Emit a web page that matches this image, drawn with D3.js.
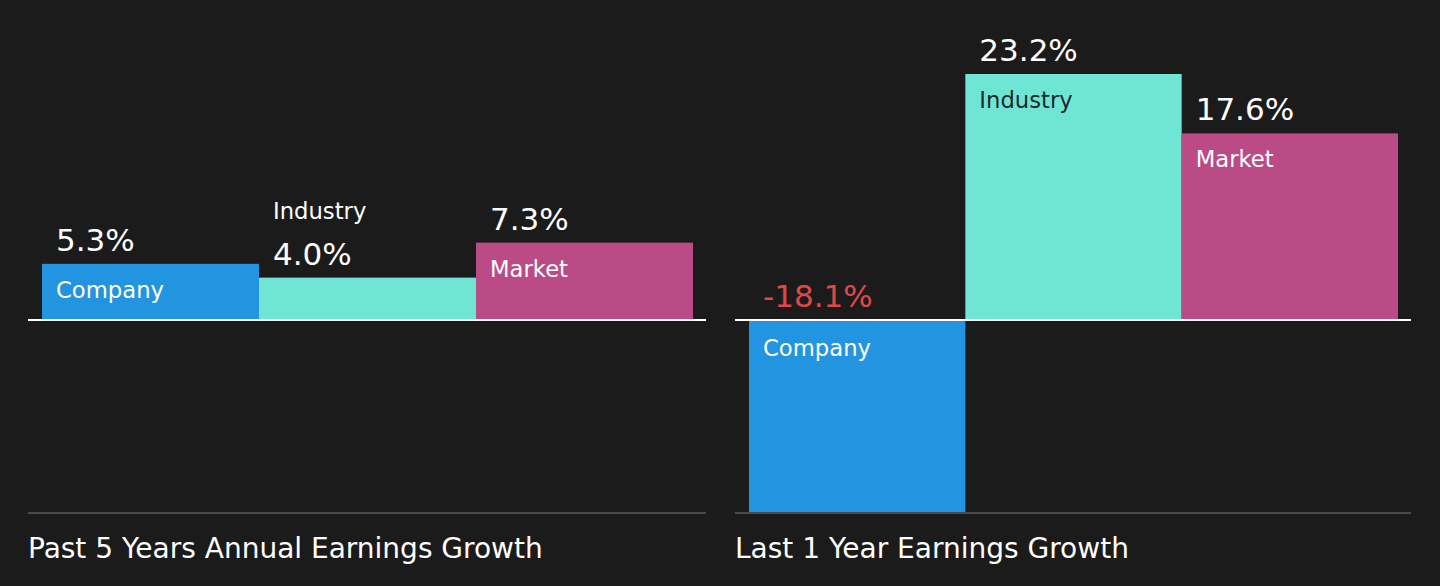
<!DOCTYPE html>
<html><head><meta charset="utf-8">
<script src="https://cdn.jsdelivr.net/npm/d3@7"></script>
<style>
html,body{margin:0;padding:0;background:#1b1b1b;}
svg{display:block;font-family:"DejaVu Sans",sans-serif;}
</style></head>
<body><svg id="c" width="1440" height="586"></svg>
<script>
const categories = ["Company", "Industry", "Market"];
const past5Values = [5.3, 4.0, 7.3];
const last1Values = [-18.1, 23.2, 17.6];
const panelTitles = ["Past 5 Years Annual Earnings Growth", "Last 1 Year Earnings Growth"];

const colors = {Company:"#2394df", Industry:"#6fe6d5", Market:"#bb4b87"};
const svg = d3.select("#c");
svg.append("rect").attr("width",1440).attr("height",586).attr("fill","#1b1b1b");

const allVals = past5Values.concat(last1Values);
const y = d3.scaleLinear().domain([d3.min(allVals), d3.max(allVals)]).range([512, 74]);

const panels = [
  {x0:28, x1:706, values:past5Values, title:panelTitles[0]},
  {x0:735, x1:1411, values:last1Values, title:panelTitles[1]}
];

panels.forEach(p => {
  const g = svg.append("g");
  const x = d3.scaleBand().domain(categories).range([p.x0+14, p.x1-13]).padding(0);
  const data = categories.map((c,i)=>({cat:c, v:p.values[i]}));
  g.selectAll("rect.bar").data(data).enter().append("rect")
    .attr("x", d=>x(d.cat)).attr("width", x.bandwidth())
    .attr("y", d=>Math.min(y(d.v), y(0))).attr("height", d=>Math.abs(y(d.v)-y(0)))
    .attr("fill", d=>colors[d.cat]);
  g.append("line").attr("x1",p.x0).attr("x2",p.x1).attr("y1",y(0)).attr("y2",y(0))
    .attr("stroke","#ffffff").attr("stroke-width",2);
  g.append("line").attr("x1",p.x0).attr("x2",p.x1).attr("y1",513).attr("y2",513)
    .attr("stroke","#4a4a4a").attr("stroke-width",2);
  data.forEach(d => {
    const bx = x(d.cat)+14;
    const top = y(d.v), zero = y(0);
    const h = Math.abs(top-zero);
    const valTxt = d.v.toFixed(1)+"%";
    if (d.v >= 0) {
      g.append("text").attr("x",bx).attr("y",top-13).attr("fill","#ffffff")
        .attr("font-size",31).text(valTxt);
      if (h >= 50) {
        g.append("text").attr("x",bx).attr("y",top+34)
          .attr("fill", d.cat==="Industry" ? "#1b2b2b" : "#ffffff")
          .attr("font-size",22.7).text(d.cat);
      } else {
        g.append("text").attr("x",bx).attr("y",top-59).attr("fill","#ffffff")
          .attr("font-size",22.7).text(d.cat);
      }
    } else {
      g.append("text").attr("x",bx).attr("y",zero-13).attr("fill","#e04848")
        .attr("font-size",31).text(valTxt);
      g.append("text").attr("x",bx).attr("y",zero+36).attr("fill","#ffffff")
        .attr("font-size",22.7).text(d.cat);
    }
  });
  g.append("text").attr("x",p.x0).attr("y",558).attr("fill","#ffffff")
    .attr("font-size",28).text(p.title);
});
</script></body></html>
